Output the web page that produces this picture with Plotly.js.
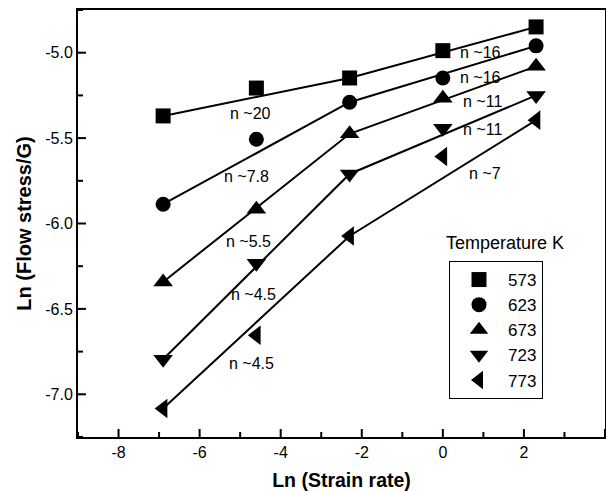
<!DOCTYPE html>
<html>
<head>
<meta charset="utf-8">
<script src="https://cdn.plot.ly/plotly-3.0.1.min.js"></script>
<style>html,body{margin:0;padding:0;background:#fff;}#chart{width:606px;height:491px;}</style>
</head>
<body>
<div id="chart"></div>
<script>
// ---- data ----
const lnStrainRate = [-6.9, -4.6, -2.3, 0, 2.3];
const temperatures = ['573', '623', '673', '723', '773'];
const stress573 = [-5.370, -5.207, -5.148, -4.988, -4.849];
const stress623 = [-5.887, -5.507, -5.290, -5.148, -4.960];
const stress673 = [-6.342, -5.917, -5.475, -5.266, -5.080];
const stress723 = [-6.795, -6.233, -5.710, -5.442, -5.250];
const stress773 = [-7.083, -6.654, -6.073, -5.608, -5.395];
// indices of points joined by the drawn (two-segment) fit lines
const fitIndex = [0, 2, 4];
// axis ticks
const xTickVals = [-8, -6, -4, -2, 0, 2, 4];
const xTickText = ['-8', '-6', '-4', '-2', '0', '2', '4'];
const xMinorTicks = [-9, -7, -5, -3, -1, 1, 3];
const yTickVals = [-7.0, -6.5, -6.0, -5.5, -5.0];
const yTickText = ['-7.0', '-6.5', '-6.0', '-5.5', '-5.0'];
const yMinorTicks = [-7.25, -6.75, -6.25, -5.75, -5.25, -4.75];
// stress exponent labels
const nLabels = ['n ~20', 'n ~7.8', 'n ~5.5', 'n ~4.5', 'n ~4.5', 'n ~16', 'n ~16', 'n ~11', 'n ~11', 'n ~7'];
const nLabelX = [-4.75, -4.84, -4.80, -4.67, -4.71, 0.92, 0.92, 0.98, 0.98, 1.05];
const nLabelY = [-5.358, -5.725, -6.103, -6.415, -6.82, -4.996, -5.148, -5.286, -5.452, -5.706];

const series = [stress573, stress623, stress673, stress723, stress773];
const symbols = ['square', 'circle', 'triangle-up', 'triangle-down', 'triangle-left'];
const sizes = [15, 15, 17, 17, 17];
const FONT = 'Liberation Sans, Arial, Helvetica, sans-serif';

const traces = [];
series.forEach((ys, i) => {
  traces.push({
    x: fitIndex.map(k => lnStrainRate[k]),
    y: fitIndex.map(k => ys[k]),
    mode: 'lines', type: 'scatter', showlegend: false, hoverinfo: 'skip',
    line: {color: '#000', width: 2}
  });
});
series.forEach((ys, i) => {
  traces.push({
    x: lnStrainRate, y: ys, name: temperatures[i],
    mode: 'markers', type: 'scatter',
    marker: {symbol: symbols[i], size: sizes[i], color: '#000'}
  });
});

const L = 78, R = 1, T = 10, B = 54, W = 606, H = 491;
const pw = W - L - R, ph = H - T - B;

const annotations = nLabels.map((t, i) => ({
  x: nLabelX[i], y: nLabelY[i], xref: 'x', yref: 'y', text: t, showarrow: false,
  xanchor: 'center', yanchor: 'middle',
  font: {family: FONT, size: 16, color: '#000'}
}));
annotations.push({
  x: (505 - L) / pw, y: (H - B - 243) / ph, xref: 'paper', yref: 'paper',
  xanchor: 'center', yanchor: 'middle',
  text: 'Temperature K', showarrow: false,
  font: {family: FONT, size: 18, color: '#000'}
});

// inward tick marks, placed through the axes' own scales (length given in paper units)
const tickLine = {color: '#000', width: 2};
const shapes = [];
const addXTick = (v, len) => shapes.push({type: 'line', xref: 'x', yref: 'paper',
  x0: v, x1: v, y0: 0, y1: len / ph, line: tickLine, layer: 'above'});
const addYTick = (v, len) => shapes.push({type: 'line', xref: 'paper', yref: 'y',
  x0: 0, x1: len / pw, y0: v, y1: v, line: tickLine, layer: 'above'});
xTickVals.forEach(v => addXTick(v, 8));
xMinorTicks.forEach(v => addXTick(v, 5));
yTickVals.forEach(v => addYTick(v, 8));
yMinorTicks.forEach(v => addYTick(v, 5));

const layout = {
  width: W, height: H,
  margin: {l: L, r: R, t: T, b: B},
  paper_bgcolor: '#fff', plot_bgcolor: '#fff',
  font: {family: FONT, size: 16, color: '#000'},
  showlegend: true,
  legend: {
    x: (449 - L) / pw, y: (H - B - 261) / ph, xanchor: 'left', yanchor: 'top',
    bordercolor: '#000', borderwidth: 1, bgcolor: '#fff',
    font: {family: FONT, size: 17, color: '#000'},
    tracegroupgap: 0, itemwidth: 48
  },
  xaxis: {
    range: [-9, 4], tickmode: 'array', tickvals: xTickVals, ticktext: xTickText,
    ticks: '', showline: true, linewidth: 2, linecolor: '#000', mirror: true,
    showgrid: false, zeroline: false,
    tickfont: {family: FONT, size: 16, color: '#000'},
    title: {text: '<b>Ln (Strain rate)</b>', font: {family: FONT, size: 19.5, color: '#000'}, standoff: 14}
  },
  yaxis: {
    range: [-7.25, -4.75], tickmode: 'array', tickvals: yTickVals, ticktext: yTickText,
    ticks: '', showline: true, linewidth: 2, linecolor: '#000', mirror: true,
    showgrid: false, zeroline: false,
    tickfont: {family: FONT, size: 16, color: '#000'},
    title: {text: '<b>Ln (Flow stress/G)</b>', font: {family: FONT, size: 20, color: '#000'}, standoff: 8}
  },
  shapes: shapes,
  annotations: annotations
};

Plotly.newPlot('chart', traces, layout, {displayModeBar: false});
</script>
</body>
</html>
